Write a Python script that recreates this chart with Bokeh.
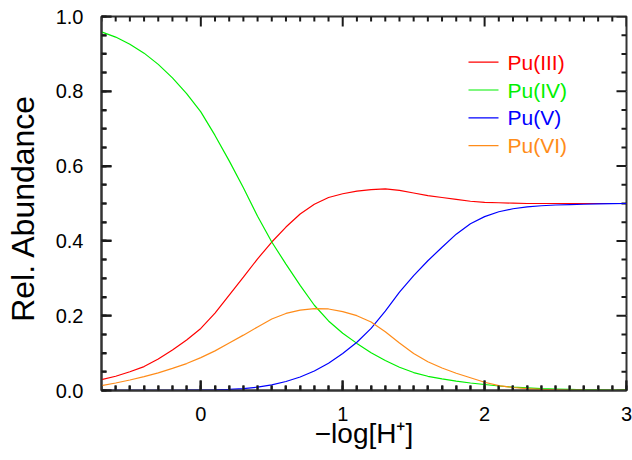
from bokeh.plotting import figure
from bokeh.models import Range1d, SingleIntervalTicker, PrintfTickFormatter, ColumnDataSource
from bokeh.core.properties import value
from bokeh.embed import file_html
from bokeh.resources import INLINE

# -log[H+] values
ph = [-0.7, -0.6, -0.5, -0.4, -0.3, -0.2, -0.1, 0.0, 0.1, 0.2, 0.3, 0.4, 0.5, 0.6, 0.7,
      0.8, 0.9, 1.0, 1.1, 1.2, 1.3, 1.4, 1.5, 1.6, 1.7, 1.8, 1.9, 2.0, 2.1, 2.2, 2.3,
      2.4, 2.5, 2.6, 2.7, 2.8, 2.9, 3.0]

pu3 = [0.029, 0.038, 0.050, 0.064, 0.084, 0.108, 0.135, 0.166, 0.207, 0.255, 0.303,
       0.352, 0.397, 0.437, 0.472, 0.498, 0.516, 0.526, 0.533, 0.537, 0.539, 0.535,
       0.528, 0.521, 0.516, 0.511, 0.506, 0.503, 0.502, 0.501, 0.500, 0.500, 0.500,
       0.500, 0.500, 0.500, 0.500, 0.500]

pu4 = [0.959, 0.945, 0.926, 0.902, 0.872, 0.836, 0.794, 0.745, 0.682, 0.614, 0.542,
       0.466, 0.397, 0.338, 0.281, 0.228, 0.186, 0.153, 0.126, 0.101, 0.080, 0.062,
       0.048, 0.038, 0.031, 0.025, 0.020, 0.016, 0.012, 0.009, 0.007, 0.005, 0.004,
       0.003, 0.002, 0.0015, 0.001, 0.001]

pu5 = [0.0, 0.0001, 0.0001, 0.0002, 0.0003, 0.0005, 0.0008, 0.0013, 0.002, 0.003,
       0.005, 0.009, 0.015, 0.024, 0.036, 0.052, 0.073, 0.099, 0.129, 0.166, 0.212,
       0.263, 0.307, 0.347, 0.383, 0.418, 0.446, 0.465, 0.478, 0.486, 0.491, 0.494,
       0.496, 0.497, 0.498, 0.499, 0.4995, 0.500]

pu6 = [0.013, 0.020, 0.028, 0.037, 0.047, 0.059, 0.072, 0.088, 0.106, 0.127, 0.148,
       0.170, 0.191, 0.206, 0.215, 0.219, 0.218, 0.211, 0.200, 0.183, 0.157, 0.127,
       0.099, 0.077, 0.060, 0.046, 0.034, 0.022, 0.013, 0.008, 0.005, 0.003, 0.002,
       0.0012, 0.0008, 0.0005, 0.0003, 0.0002]

names = ["Pu(III)", "Pu(IV)", "Pu(V)", "Pu(VI)"]
colors = ["#ff0000", "#00f000", "#0000ff", "#ff8c1a"]

# axis ticks
x_min, x_max = -0.7, 3.0
y_min, y_max = 0.0, 1.0
x_minor_step = 0.1
y_major_step = 0.2
y_minor_step = 0.05

FW, FH = 525, 374
INK = "#1a1a1a"

p = figure(frame_width=FW, frame_height=FH, output_backend="svg", toolbar_location=None,
           x_range=Range1d(x_min, x_max), y_range=Range1d(y_min, y_max),
           min_border_left=101, min_border_top=16, min_border_right=6, min_border_bottom=66,
           x_axis_label="\u2212log[H\u207a]", y_axis_label="Rel.  Abundance")
p.xgrid.grid_line_color = "#ffffff"
p.ygrid.grid_line_color = "#ffffff"
p.outline_line_color = "#333333"
p.outline_line_width = 2

xa = p.xaxis[0]
xa.ticker = SingleIntervalTicker(interval=1, num_minor_ticks=10)
xa.formatter = PrintfTickFormatter(format="%d")
ya = p.yaxis[0]
ya.ticker = SingleIntervalTicker(interval=y_major_step, num_minor_ticks=4)
ya.formatter = PrintfTickFormatter(format="%.1f")
for ax in (xa, ya):
    ax.major_tick_out = 0
    ax.major_tick_in = 10
    ax.minor_tick_out = 0
    ax.minor_tick_in = 5
    ax.major_tick_line_color = INK
    ax.minor_tick_line_color = INK
    ax.major_tick_line_width = 2
    ax.minor_tick_line_width = 2
    ax.axis_line_color = "#333333"
    ax.axis_line_width = 2
    ax.major_label_text_font_size = "20px"
    ax.major_label_text_color = "black"
    ax.axis_label_text_font_style = "normal"
    ax.axis_label_text_color = "black"
xa.axis_label_text_font_size = "28px"
ya.axis_label_text_font_size = "32px"
xa.major_label_standoff = 16
xa.axis_label_standoff = -6
ya.major_label_standoff = 18
ya.axis_label_standoff = 12

# pixel <-> data helpers for this frame
dxp = (x_max - x_min) / FW
dyp = (y_max - y_min) / FH

# inward ticks on all four sides
MAJ, MIN = 10, 5
nx = int(round((x_max - x_min) / x_minor_step))
xt = [round(x_min + i * x_minor_step, 6) for i in range(nx + 1)]
xlen = [MAJ if abs(v - round(v)) < 1e-6 else MIN for v in xt]
ny = int(round((y_max - y_min) / y_minor_step))
yt = [round(y_min + i * y_minor_step, 6) for i in range(ny + 1)]
ylen = [MAJ if abs(v / y_major_step - round(v / y_major_step)) < 1e-6 else MIN for v in yt]
tick_kw = dict(line_color=INK, line_width=2)
p.segment(x0=list(xt), x1=list(xt), y0=[y_max] * len(xt),
          y1=[y_max - L * dyp for L in xlen], **tick_kw)
p.segment(x0=list(xt), x1=list(xt), y0=[y_min] * len(xt),
          y1=[y_min + L * dyp for L in xlen], **tick_kw)
p.segment(x0=[x_max] * len(yt), x1=[x_max - L * dxp for L in ylen],
          y0=list(yt), y1=list(yt), **tick_kw)
p.segment(x0=[x_min] * len(yt), x1=[x_min + L * dxp for L in ylen],
          y0=list(yt), y1=list(yt), **tick_kw)

src = ColumnDataSource(dict(x=ph, pu3=pu3, pu4=pu4, pu5=pu5, pu6=pu6))
keys = ["pu3", "pu4", "pu5", "pu6"]
for k, c in zip(keys, colors):
    p.line("x", k, source=src, line_color=c, line_width=1.2)

# legend: short line + coloured label, placed in pixels from the frame's top-left
LEG_X0, LEG_X1, LEG_TX = 367, 397, 406
LEG_TOP, LEG_STEP = 45.7, 27.8
lx0 = [x_min + LEG_X0 * dxp] * len(names)
lx1 = [x_min + LEG_X1 * dxp] * len(names)
ly = [y_max - (LEG_TOP + i * LEG_STEP) * dyp for i in range(len(names))]
p.segment(x0=lx0, x1=lx1, y0=ly, y1=list(ly), line_color=colors, line_width=1.2)
p.text(x=[x_min + LEG_TX * dxp] * len(names), y=list(ly), text=names, text_color=colors,
       text_font_size=value("21px"), text_baseline="middle", text_align="left")

open("out.html", "w").write(file_html(p, INLINE))
